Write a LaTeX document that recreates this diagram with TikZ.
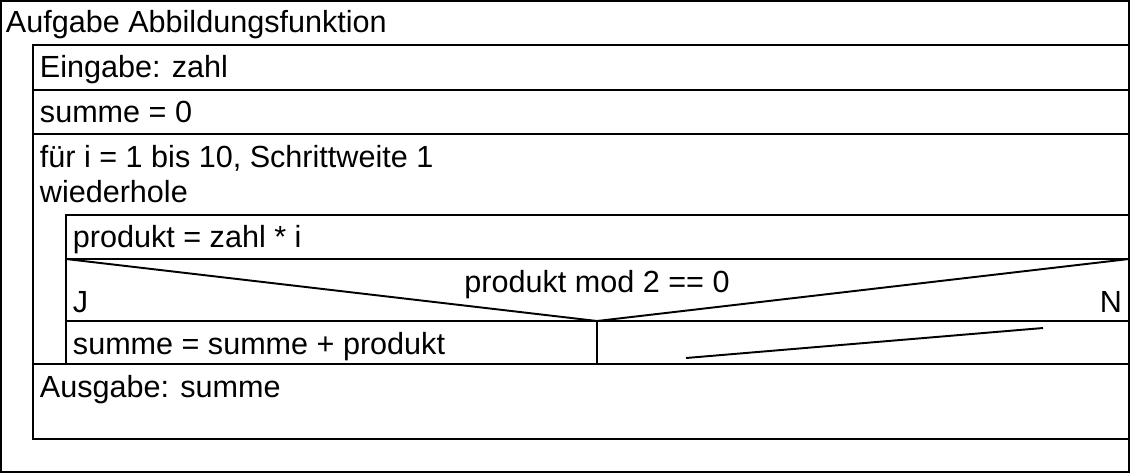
\documentclass[tikz,border=0pt]{standalone}
\usepackage{fontspec}
\setmainfont{Liberation Sans}

\begin{document}
\begin{tikzpicture}[x=0.02cm, y=-0.02cm, line width=1.1pt,
  txt/.style={anchor=base west, inner sep=0pt, font=\fontsize{17.4}{20}\selectfont}]
  \useasboundingbox (0,0) rectangle (1131,474);
  % outer frame
  \draw (1,1) rectangle (1129,472);
  \node[txt] (titel) at (5,32) {Aufgabe Abbildungsfunktion};
  % sequence
  \draw (33,45) rectangle (1129,439);
  \draw (33,90) -- (1129,90);
  \draw (33,134) -- (1129,134);
  \draw (33,364) -- (1129,364);
  \node[txt] (eingabe) at (39,77) {Eingabe: zahl};
  \node[txt] (init) at (39,122) {summe = 0};
  \node[txt] (schleife) at (39,167) {für i = 1 bis 10, Schrittweite 1};
  \node[txt] (wdh) at (39,202) {wiederhole};
  % loop body
  \draw (66,215) rectangle (1129,364);
  \draw (66,259) -- (1129,259);
  \draw (66,321) -- (1129,321);
  \node[txt] (produkt) at (72,247) {produkt = zahl * i};
  % decision
  \coordinate (spitze) at (597,321);
  \draw (66,259) -- (spitze) -- (1129,259);
  \draw (spitze) -- (597,364);
  \node[txt, anchor=base] (bed) at (597,292) {produkt mod 2 == 0};
  \node[txt] (ja) at (72,312) {J};
  \node[txt, anchor=base east] (nein) at (1123,312) {N};
  \node[txt] (summe) at (72,354) {summe = summe + produkt};
  \draw (686,358) -- (1043,328);
  \node[txt] (ausgabe) at (39,397) {Ausgabe: summe};
\end{tikzpicture}
\end{document}
